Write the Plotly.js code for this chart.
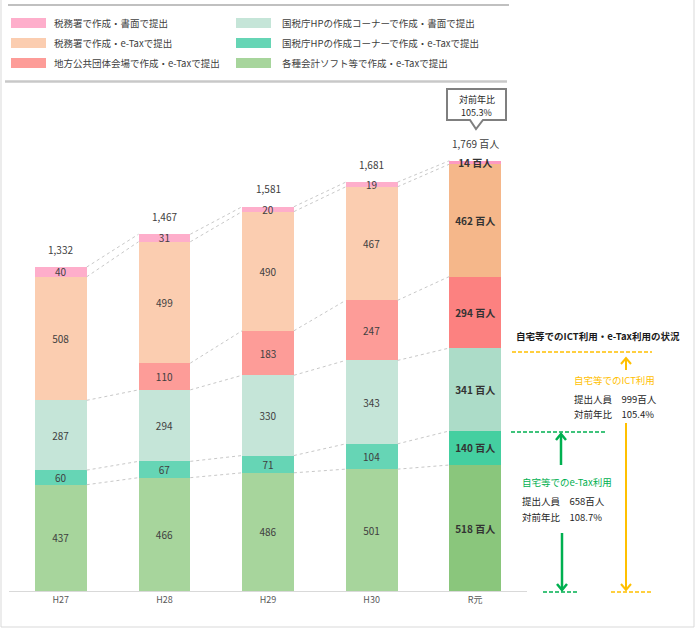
<!DOCTYPE html>
<html>
<head>
<meta charset="utf-8">
<script src="https://cdn.plot.ly/plotly-3.0.1.min.js"></script>
<style>html,body{margin:0;padding:0;background:#fff;}#chart{width:695px;height:628px;}</style>
</head>
<body>
<div id="chart"></div>
<script>
// ---- data ----
const categories = ['H27', 'H28', 'H29', 'H30', 'R元'];
const seriesNames = [
  '各種会計ソフト等で作成・e-Taxで提出',
  '国税庁HPの作成コーナーで作成・e-Taxで提出',
  '国税庁HPの作成コーナーで作成・書面で提出',
  '地方公共団体会場で作成・e-Taxで提出',
  '税務署で作成・e-Taxで提出',
  '税務署で作成・書面で提出'
];
const softwareETax = [437, 466, 486, 501, 518];
const hpETax       = [60, 67, 71, 104, 140];
const hpPaper      = [287, 294, 330, 343, 341];
const localETax    = [0, 110, 183, 247, 294];
const officeETax   = [508, 499, 490, 467, 462];
const officePaper  = [40, 31, 20, 19, 14];
const totals       = [1332, 1467, 1581, 1681, 1769];
const unit = '百人';
const yoyLabel = '対前年比';
const yoyTotal = '105.3%';
const ictUsers = 999, ictYoy = '105.4%';
const etaxUsers = 658, etaxYoy = '108.7%';

// ---- styles ----
const baseColors = ['#a7d59c', '#66d5b5', '#c5e5d8', '#fd9c98', '#fbcdb0', '#feaecb'];
const lastColors = ['#8ac67c', '#44cfa0', '#acdcc8', '#fc8180', '#f5b78a', '#fd99c1'];
const series = [softwareETax, hpETax, hpPaper, localETax, officeETax, officePaper];
const n = categories.length;
const xs = categories.map((c, i) => i);
const barWidth = 0.5;
const last = n - 1;

const traces = series.map((vals, k) => ({
  type: 'bar',
  x: xs,
  y: vals,
  width: barWidth,
  name: seriesNames[k],
  marker: {color: vals.map((v, i) => i === last ? lastColors[k] : baseColors[k]), line: {width: 0}},
  text: vals.map((v, i) => v === 0 ? '' : (i === last ? '<b>' + v + ' ' + unit + '</b>' : String(v))),
  textposition: 'inside',
  insidetextanchor: 'middle',
  textangle: 0,
  constraintext: 'none',
  textfont: {family: 'Noto Sans CJK JP', size: 10, color: vals.map((v, i) => i === last ? '#333333' : '#404040')},
  hoverinfo: 'skip',
  showlegend: false
}));

// connector dotted lines between cumulative boundaries
const cum = [];
series.forEach((vals, k) => {
  cum.push(vals.map((v, i) => v + (k > 0 ? cum[k - 1][i] : 0)));
});
series.forEach((vals, k) => {
  const lx = [], ly = [];
  for (let i = 0; i < n - 1; i++) {
    if (vals[i] === 0 || vals[i + 1] === 0) continue;
    lx.push(i + barWidth / 2, i + 1 - barWidth / 2, null);
    ly.push(cum[k][i], cum[k][i + 1], null);
  }
  traces.push({
    type: 'scatter', mode: 'lines', x: lx, y: ly,
    line: {color: '#c8c8c8', width: 1, dash: 'dot'},
    hoverinfo: 'skip', showlegend: false
  });
});

// ---- pixel helpers for decorations ----
const L = 9, R = 527, T = 90, B = 591;
const PX = x => (x - L) / (R - L);
const PY = y => (B - y) / (B - T);
const font = 'Noto Sans CJK JP';
const shapes = [];
const annotations = [];
function line(x0, y0, x1, y1, color, width, dash) {
  shapes.push({type: 'line', xref: 'paper', yref: 'paper', x0: PX(x0), y0: PY(y0), x1: PX(x1), y1: PY(y1),
    line: {color: color, width: width, dash: dash || 'solid'}});
}
function path(pts, color, width, fill, close) {
  let d = pts.map((p, i) => (i === 0 ? 'M' : 'L') + PX(p[0]).toFixed(5) + ',' + PY(p[1]).toFixed(5)).join(' ');
  if (close) d += ' Z';
  shapes.push({type: 'path', xref: 'paper', yref: 'paper', path: d, fillcolor: fill || 'rgba(0,0,0,0)',
    line: {color: color, width: width}});
}
function text(x, y, t, opts) {
  opts = opts || {};
  annotations.push({xref: 'paper', yref: 'paper', x: PX(x), y: PY(y), text: t, showarrow: false,
    xanchor: opts.xanchor || 'left', yanchor: 'middle', align: opts.align || 'left',
    font: {family: font, size: opts.size || 9.5, color: opts.color || '#404040'}});
}

// frame
line(1, 0, 1, 627, '#d9d9d9', 1);
line(694, 0, 694, 627, '#d9d9d9', 1);
line(1, 627, 694, 627, '#d9d9d9', 1);
// top separator lines
line(8, 5, 509, 5, '#c0c0c0', 2);
line(5, 81.5, 507, 81.5, '#c8c8c8', 2.5);

// legend (column-wise order)
const legendOrder = [5, 4, 3, 2, 1, 0];
legendOrder.forEach((k, j) => {
  const col = Math.floor(j / 3), row = j % 3;
  const sx = col === 0 ? 11 : 236;
  const cy = 23 + row * 20;
  shapes.push({type: 'rect', xref: 'paper', yref: 'paper', x0: PX(sx), x1: PX(sx + 35), y0: PY(cy - 5), y1: PY(cy + 5),
    fillcolor: baseColors[k], line: {width: 0}});
  text(sx + 41 + (col === 1 ? 3 : 0), cy, seriesNames[k], {size: 9.5, color: '#404040'});
});

// total labels above bars
totals.forEach((t, i) => {
  annotations.push({x: i, y: t, xref: 'x', yref: 'y', text: t.toLocaleString('en-US') + (i === last ? ' ' + unit : ''),
    showarrow: false, yanchor: 'bottom', yshift: 8, font: {family: font, size: 10, color: '#404040'}});
});

// callout box
path([[447, 89], [506, 89], [506, 120], [483, 120], [476, 129], [470, 120], [447, 120]], '#7f7f7f', 2, '#ffffff', true);
text(476.5, 99.5, yoyLabel, {xanchor: 'center', align: 'center', size: 9, color: '#262626'});
text(476.5, 112, yoyTotal, {xanchor: 'center', align: 'center', size: 9, color: '#262626'});

// right-side panel
const orange = '#ffc000', green = '#00b050';
annotations.push({xref: 'paper', yref: 'paper', x: PX(598), y: PY(336), text: '<b>自宅等でのICT利用・e-Tax利用の状況</b>',
  showarrow: false, xanchor: 'center', yanchor: 'middle', font: {family: font, size: 9.5, color: '#1a1a1a'}});
// ICT
line(512, 352, 652, 352, orange, 1.5, '4px,2px');
line(626, 370, 626, 358, orange, 2);
path([[621, 364], [626, 358], [631, 364]], orange, 2);
text(572, 380, '自宅等でのICT利用', {size: 9.5, color: orange});
text(572, 399, '提出人員　' + ictUsers + unit, {size: 9.5, color: '#262626'});
text(572, 414, yoyLabel + '　' + ictYoy, {size: 9.5, color: '#262626'});
line(626, 423, 626, 590, orange, 2);
path([[621, 584], [626, 590], [631, 584]], orange, 2);
line(611, 592, 653, 592, orange, 1.5, '4px,2px');
// e-Tax
line(511, 432, 607, 432, green, 1.5, '4px,2px');
line(561, 465, 561, 435, green, 2.5);
path([[556, 440], [561, 434], [566, 440]], green, 2.5);
text(520, 482, '自宅等でのe-Tax利用', {size: 9.5, color: green});
text(520, 501, '提出人員　' + etaxUsers + unit, {size: 9.5, color: '#262626'});
text(520, 517, yoyLabel + '　' + etaxYoy, {size: 9.5, color: '#262626'});
line(562, 533, 562, 590, green, 2.5);
path([[557, 584], [562, 590], [567, 584]], green, 2.5);
line(543, 592, 578, 592, green, 1.5, '4px,2px');

const layout = {
  width: 695, height: 628,
  margin: {l: L, r: 695 - R, t: T, b: 628 - B, pad: 0},
  paper_bgcolor: '#ffffff', plot_bgcolor: '#ffffff',
  barmode: 'stack',
  showlegend: false,
  xaxis: {range: [-0.5, n - 0.5], tickvals: xs, ticktext: categories, showgrid: false, zeroline: false,
    showline: true, linecolor: '#d9d9d9', linewidth: 1, ticks: '', fixedrange: true,
    tickfont: {family: font, size: 9, color: '#595959'}},
  yaxis: {range: [0, 2060], visible: false, fixedrange: true},
  shapes: shapes,
  annotations: annotations,
  font: {family: font}
};

Plotly.newPlot('chart', traces, layout, {displayModeBar: false, staticPlot: true});
</script>
</body>
</html>
